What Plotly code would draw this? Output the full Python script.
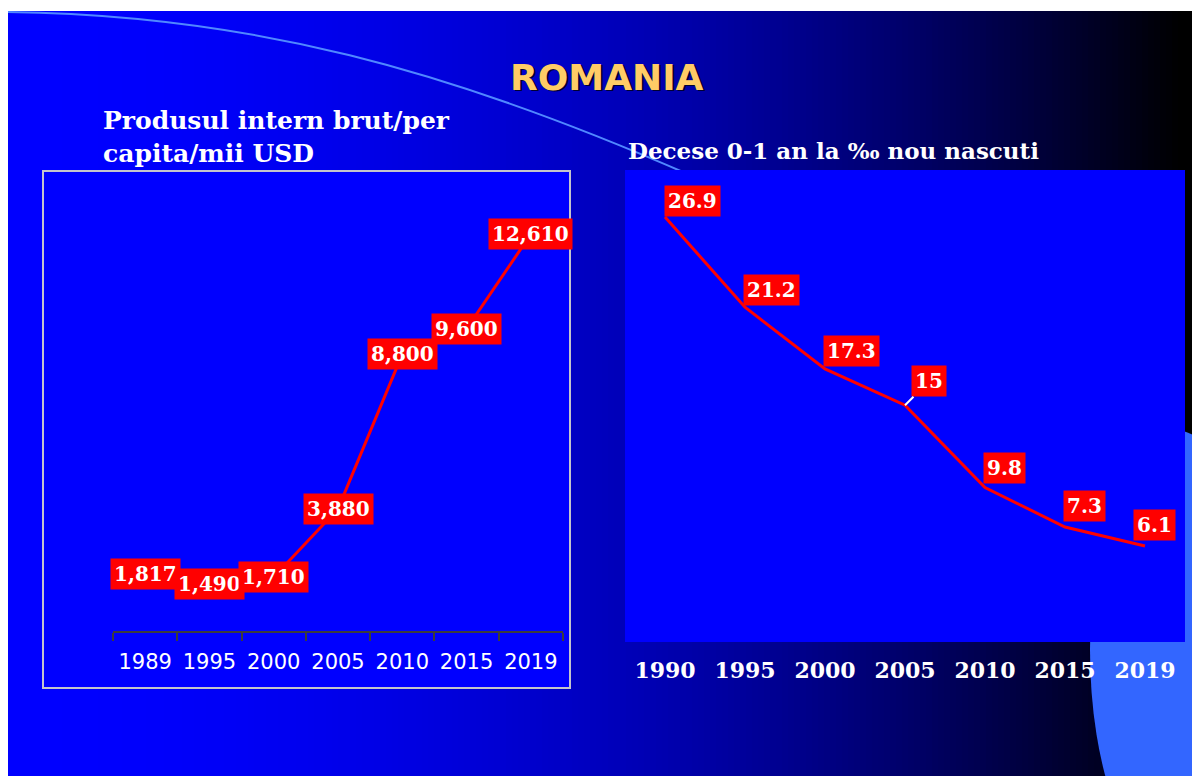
import plotly.graph_objects as go

# ---------------- data ----------------
gdp_years = ["1989", "1995", "2000", "2005", "2010", "2015", "2019"]
gdp_values = [1817, 1490, 1710, 3880, 8800, 9600, 12610]

mort_years = ["1990", "1995", "2000", "2005", "2010", "2015", "2019"]
mort_values = [26.9, 21.2, 17.3, 15, 9.8, 7.3, 6.1]

main_title = "ROMANIA"
gdp_title = "Produsul intern brut/per<br>capita/mii USD"
mort_title = "Decese 0-1 an la \u2030 nou nascuti"

# ---------------- geometry helpers (screen px -> paper) ----------------
W, H = 1192, 768
OX, OY = 8, 8  # page body margin


def fx(x):
    return (x - OX) / W


def fy(y):
    return 1 - (y - OY) / H


SERIF = "DejaVu Serif"
SANS = "DejaVu Sans"

fig = go.Figure()
fig.add_trace(go.Scatter(x=gdp_years, y=gdp_values, mode="lines",
                         line=dict(color="#FF0000", width=3),
                         xaxis="x", yaxis="y", hoverinfo="skip"))
fig.add_trace(go.Scatter(x=mort_years, y=mort_values, mode="lines",
                         line=dict(color="#FF0000", width=3),
                         xaxis="x2", yaxis="y2", hoverinfo="skip"))

shapes = []
# background horizontal gradient blue -> black
step = 6
x = 8
while x < 1200:
    t = min(max((x + step / 2 - 8) / 1172, 0), 1)
    b = int(round(255 * (1 - t * t)))
    shapes.append(dict(type="rect", xref="paper", yref="paper",
                       x0=fx(x), x1=fx(x + step + 1), y0=fy(800), y1=fy(11),
                       fillcolor=f"rgb(0,0,{b})", line=dict(width=0), layer="below"))
    x += step
# decorative arc
shapes.append(dict(type="path", xref="paper", yref="paper",
                   path=f"M {fx(8)},{fy(12)} C {fx(250)},{fy(15)} {fx(450)},{fy(70)} {fx(690)},{fy(175)}",
                   line=dict(color="#5088FF", width=2), layer="below"))
# light blue ellipse bottom right
shapes.append(dict(type="circle", xref="paper", yref="paper",
                   x0=fx(1090), x1=fx(1260), y0=fy(870), y1=fy(430),
                   fillcolor="#3366FF", line=dict(width=0), layer="below"))
# left plot box
shapes.append(dict(type="rect", xref="paper", yref="paper",
                   x0=fx(43), x1=fx(570), y0=fy(688), y1=fy(171),
                   fillcolor="#0000FF", line=dict(color="#C4C4CC", width=2), layer="below"))
# right plot box
shapes.append(dict(type="rect", xref="paper", yref="paper",
                   x0=fx(625), x1=fx(1185), y0=fy(642), y1=fy(170),
                   fillcolor="#0000FF", line=dict(width=0), layer="below"))

annotations = []
lab_font = dict(family=SERIF, size=20, color="white")
# left chart labels: centred on the points (category index positions)
for i, v in enumerate(gdp_values):
    annotations.append(dict(text=f"<b>{v:,}</b>", x=i, y=v, xref="x", yref="y",
                            showarrow=False, bgcolor="#FF0000", borderpad=3,
                            font=lab_font))

# right chart labels: above-right of the points
mort_dx = [-1, -2, -2, 0, -2, -2, -12]
mort_dy = [0, 1, 2, 0, 4, 5, 5]
for i, (yr, v) in enumerate(zip(mort_years, mort_values)):
    if yr == "2005":
        annotations.append(dict(text=f"<b>{v:g}</b>", x=i, y=v, xref="x2", yref="y2",
                                showarrow=True, ax=24, ay=-24, arrowhead=0,
                                arrowcolor="white", arrowwidth=2,
                                bgcolor="#FF0000", borderpad=3, font=lab_font))
    else:
        annotations.append(dict(text=f"<b>{v:g}</b>", x=i, y=v, xref="x2", yref="y2",
                                showarrow=False, xanchor="left", yanchor="bottom",
                                xshift=mort_dx[i], yshift=mort_dy[i],
                                bgcolor="#FF0000", borderpad=3, font=lab_font))

annotations.append(dict(text=f"<b>{main_title}</b>", xref="paper", yref="paper",
                        x=fx(609), y=fy(79), xanchor="center", yanchor="middle",
                        showarrow=False, font=dict(family=SANS, size=36, color="#000033")))
annotations.append(dict(text=f"<b>{main_title}</b>", xref="paper", yref="paper",
                        x=fx(607), y=fy(77), xanchor="center", yanchor="middle",
                        showarrow=False, font=dict(family=SANS, size=36, color="#FFCC66")))
annotations.append(dict(text=f"<b>{gdp_title}</b>", xref="paper", yref="paper",
                        x=fx(101), y=fy(104), xanchor="left", yanchor="top", align="left",
                        showarrow=False, font=dict(family=SERIF, size=25, color="white")))
annotations.append(dict(text=f"<b>{mort_title}</b>", xref="paper", yref="paper",
                        x=fx(626), y=fy(151), xanchor="left", yanchor="middle",
                        showarrow=False, font=dict(family=SERIF, size=23, color="white")))

hidden_y = dict(showgrid=False, zeroline=False, showline=False, ticks="",
                showticklabels=False, fixedrange=True)

fig.update_layout(
    width=W, height=H, autosize=False,
    margin=dict(l=0, r=0, t=0, b=0, pad=0),
    paper_bgcolor="white", plot_bgcolor="rgba(0,0,0,0)",
    showlegend=False,
    shapes=shapes, annotations=annotations,
    xaxis=dict(domain=[fx(113), fx(563)], type="category", range=[-0.5, 6.5],
               showline=True, linecolor="#3C3C3C", linewidth=2,
               ticks="outside", tickson="boundaries", ticklen=8, tickwidth=2,
               tickcolor="#3C3C3C", showgrid=False, zeroline=False,
               tickfont=dict(family=SANS, size=21, color="white"),
               ticklabelstandoff=11, anchor="y", fixedrange=True),
    yaxis=dict(domain=[fy(631), fy(190.4)], range=[0, 14000], anchor="x", **hidden_y),
    xaxis2=dict(domain=[fx(625), fx(1185)], type="category", range=[-0.5, 6.5],
                showline=False, ticks="", showgrid=False, zeroline=False,
                tickfont=dict(family=SERIF, size=22, color="white", weight="bold"),
                ticklabelstandoff=12, anchor="y2", fixedrange=True),
    yaxis2=dict(domain=[fy(642.5), fy(168)], range=[0, 30], anchor="x2", **hidden_y),
)

fig.write_html("out.html", config={"displayModeBar": False})
